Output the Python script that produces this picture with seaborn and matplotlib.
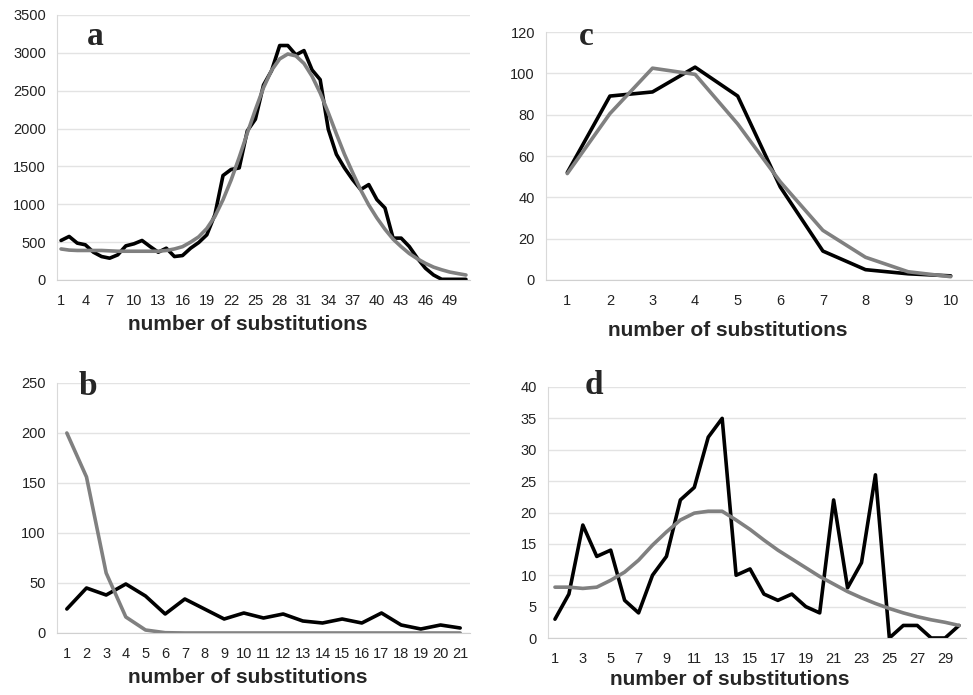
import numpy as np
import pandas as pd
import seaborn as sns
import matplotlib.pyplot as plt

# panel a: 51 categories
a_obs = [522, 575, 487, 465, 367, 310, 288, 332, 451, 478, 522, 442, 367, 420, 310,
         323, 420, 495, 597, 863, 1380, 1460, 1480, 1970, 2124, 2575, 2765, 3097, 3097, 2973,
         3030, 2774, 2646, 1990, 1660, 1480, 1327, 1195, 1260, 1062, 951, 553, 553, 442, 288,
         155, 66, 9, 9, 9, 9]
a_fit = [410, 395, 390, 390, 390, 390, 385, 380, 380, 380, 380, 380, 380, 390, 410,
         440, 500, 570, 680, 840, 1060, 1320, 1620, 1940, 2250, 2540, 2770, 2920, 2985, 2960,
         2860, 2690, 2470, 2210, 1930, 1660, 1420, 1190, 990, 820, 670, 540, 440, 350, 280,
         220, 170, 135, 105, 85, 66]

# panel c: 10 categories
c_obs = [52, 89, 91, 103, 89, 45, 14, 5, 3, 2]
c_fit = [51.5, 80.5, 102.5, 99.5, 75.5, 47.5, 24, 11, 4, 1.6]

# panel b: 21 categories
b_obs = [24, 45, 38, 49, 37, 19, 34, 24, 14, 20, 15, 19, 12, 10, 14, 10, 20, 8, 4, 8, 5]
b_fit = [200, 156, 60, 16, 3, 0.3, 0, 0, 0, 0, 0, 0, 0, 0, 0, 0, 0, 0, 0, 0, 0]

# panel d: 30 categories
d_obs = [3, 7, 18, 13, 14, 6, 4, 10, 13, 22, 24, 32, 35, 10, 11, 7, 6, 7, 5, 4,
         22, 8, 12, 26, 0, 2, 2, 0, 0, 2]
d_fit = [8.1, 8.1, 7.9, 8.1, 9.2, 10.5, 12.4, 14.8, 16.9, 18.8, 19.9, 20.2, 20.2, 18.8, 17.3,
         15.6, 14.0, 12.6, 11.2, 9.8, 8.6, 7.4, 6.4, 5.5, 4.7, 4.0, 3.4, 2.9, 2.5, 2.0]

W, H = 973, 695
sns.set_style("white")
plt.rcParams['font.family'] = ['Liberation Sans', 'DejaVu Sans']

fig = plt.figure(figsize=(W / 100, H / 100), dpi=100)


def px_axes(left, top, right, bottom):
    return fig.add_axes([left / W, 1 - bottom / H, (right - left) / W, (bottom - top) / H])


def panel(ax, box, obs, fit, ymax, ystep, xstep, letter, lx, ly, lab_x, lab_top):
    left, top, right, bottom = box
    n = len(obs)
    x = np.arange(1, n + 1)
    df = pd.DataFrame({"x": np.concatenate([x, x]),
                       "y": np.concatenate([obs, fit]),
                       "kind": ["obs"] * n + ["fit"] * n})
    sns.lineplot(data=df, x="x", y="y", hue="kind", palette={"obs": "black", "fit": "#808080"},
                 hue_order=["obs", "fit"], linewidth=2.6, legend=False, ax=ax)
    ax.set_xlim(0.5, n + 0.5)
    ax.set_ylim(0, ymax)
    ax.set_yticks(np.arange(0, ymax + ystep / 2, ystep))
    ax.set_xticks(np.arange(1, n + 1, xstep))
    ax.set_xticks(np.arange(0.5, n + 1, 1), minor=True)
    ax.grid(axis="y", color="#e3e3e3", linewidth=1)
    ax.set_axisbelow(True)
    for s in ["top", "right"]:
        ax.spines[s].set_visible(False)
    ax.spines["left"].set_color("#d9d9d9")
    ax.spines["bottom"].set_color("#d0d0d0")
    ax.tick_params(axis="x", which="major", length=0, pad=10, labelsize=10.5, colors="#222222")
    ax.tick_params(axis="x", which="minor", length=4, color="#d0d0d0", direction="out")
    ax.tick_params(axis="y", length=0, pad=8, labelsize=10.5, colors="#222222")
    ax.set_ylabel("")
    ax.set_xlabel("number of substitutions", fontsize=15, fontweight="bold")
    ax.xaxis.set_label_coords((lab_x - left) / (right - left),
                              (bottom - lab_top) / (bottom - top))
    ax.xaxis.label.set_va("top")
    fig.text(lx / W, 1 - ly / H, letter, family="Liberation Serif", fontweight="bold",
             fontsize=24, ha="center", va="baseline")


box_a = (57, 15, 470, 280)
panel(px_axes(*box_a), box_a, a_obs, a_fit, 3500, 500, 3, "a", 95, 45, 248, 315)

box_c = (546, 32, 972, 280)
panel(px_axes(*box_c), box_c, c_obs, c_fit, 120, 20, 1, "c", 586, 45, 728, 321)

box_b = (57, 383, 470, 633)
panel(px_axes(*box_b), box_b, b_obs, b_fit, 250, 50, 1, "b", 88, 395, 248, 668)

box_d = (548, 387, 966, 638)
panel(px_axes(*box_d), box_d, d_obs, d_fit, 40, 5, 2, "d", 594, 394, 730, 670)

plt.savefig("out.png", dpi=100)
